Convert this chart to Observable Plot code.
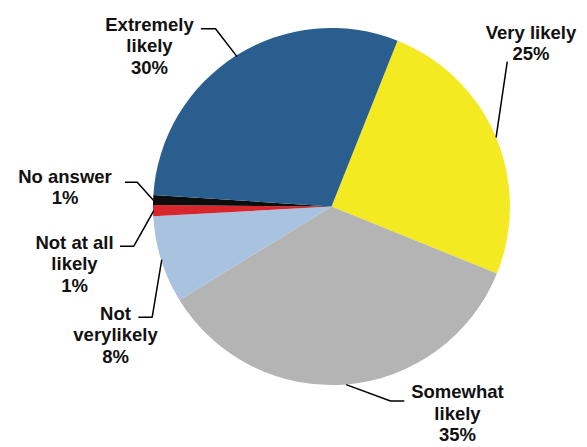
<!DOCTYPE html>
<html><head><meta charset="utf-8">
<script src="https://cdn.jsdelivr.net/npm/d3@7"></script>
<script src="https://cdn.jsdelivr.net/npm/@observablehq/plot@0.6"></script>
<style>body{margin:0;background:#fff}</style>
</head><body><div id="chart"></div>
<script>
// ---- data (clockwise from the yellow slice) ----
const categories = ["Very likely", "Somewhat likely", "Not very likely", "Not at all likely", "No answer", "Extremely likely"];
const labelLines = ["Very likely", "Somewhat\nlikely", "Not\nverylikely", "Not at all\nlikely", "No answer", "Extremely\nlikely"];
const shares = [25.1, 35.1, 7.9, 1.0, 0.9, 30.0];
const percentLabels = ["25%", "35%", "8%", "1%", "1%", "30%"];

// ---- styles / layout ----
const colors = ["#f3ea22", "#b4b4b4", "#a8c2e0", "#d8262c", "#0d0d0d", "#295e8f"];
const W = 587, H = 447;
const cx = 331.5, cy = 206.5, R = 178.5;
const startDeg = 21.7;
const fontSize = 18.5;
const labelLayout = {
  "Very likely":       {x: 530.5, y: 42.4,  elbow: null,          end: [506.7, 61.7]},
  "Somewhat likely":   {x: 457,   y: 412.5, elbow: [390, 400.5],   end: [403.3, 400.5]},
  "Not very likely":   {x: 115,   y: 334.1, elbow: [151.7, 316.7], end: [138.3, 316.7]},
  "Not at all likely": {x: 74,    y: 263.1, elbow: [133.3, 245.7], end: [120, 245.7]},
  "No answer":         {x: 64.5,  y: 186.3, elbow: [136.7, 181.7], end: [125, 181.7]},
  "Extremely likely":  {x: 149,   y: 44.8,  elbow: [215, 28.3],    end: [201, 28.3]}
};

const rows = categories.map((c, i) => ({
  category: c, share: shares[i], color: colors[i],
  label: labelLines[i] + "\n" + percentLabels[i]
}));

const a0 = startDeg * Math.PI / 180;
const arcs = d3.pie().sort(null).value(d => d.share).startAngle(a0).endAngle(a0 + 2 * Math.PI)(rows);
const arcGen = d3.arc().innerRadius(0).outerRadius(R);

// leader lines: slice mid-angle on the rim -> elbow -> label end
const leaders = [];
arcs.forEach(a => {
  const L = labelLayout[a.data.category];
  const mid = (a.startAngle + a.endAngle) / 2;
  leaders.push({category: a.data.category, x: cx + R * Math.sin(mid), y: cy - R * Math.cos(mid)});
  if (L.elbow) leaders.push({category: a.data.category, x: L.elbow[0], y: L.elbow[1]});
  leaders.push({category: a.data.category, x: L.end[0], y: L.end[1]});
});

const labels = rows.map(r => ({...r, x: labelLayout[r.category].x, y: labelLayout[r.category].y}));

function pieMark() {
  const g = d3.create("svg:g").attr("transform", `translate(${cx},${cy})`);
  g.selectAll("path").data(arcs).join("path")
    .attr("d", arcGen)
    .attr("fill", d => d.data.color);
  return g.node();
}

const chart = Plot.plot({
  width: W, height: H,
  margin: 0,
  x: {type: "identity", axis: null},
  y: {type: "identity", axis: null},
  style: {background: "white", fontFamily: "'Liberation Sans', Arial, sans-serif"},
  marks: [
    pieMark,
    Plot.line(leaders, {x: "x", y: "y", z: "category", stroke: "black", strokeWidth: 1.5, curve: "linear"}),
    Plot.text(labels, {
      x: "x", y: "y", text: "label",
      fontSize, fontWeight: "bold", fill: "#111",
      textAnchor: "middle", lineHeight: 1.16,
      fontFamily: "'Liberation Sans', Arial, sans-serif"
    })
  ]
});
document.getElementById("chart").appendChild(chart);
</script>
</body></html>
